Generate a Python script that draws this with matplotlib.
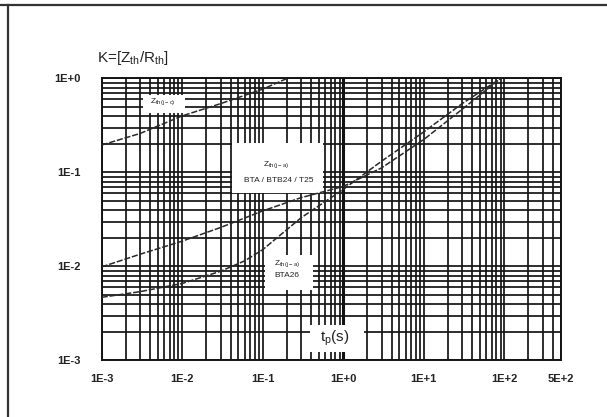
import matplotlib
matplotlib.use("Agg")
import matplotlib.pyplot as plt
from matplotlib.lines import Line2D
from matplotlib.patches import Rectangle
from matplotlib.ticker import FixedLocator, FixedFormatter, LogLocator, NullFormatter

plt.rcParams["font.family"] = ["Liberation Sans", "DejaVu Sans"]
plt.rcParams["mathtext.default"] = "regular"

# tick positions / labels
tp_ticks = [1e-3, 1e-2, 1e-1, 1e0, 1e1, 1e2, 5e2]
tp_labels = ["1E-3", "1E-2", "1E-1", "1E+0", "1E+1", "1E+2", "5E+2"]
k_ticks = [1e-3, 1e-2, 1e-1, 1e0]
k_labels = ["1E-3", "1E-2", "1E-1", "1E+0"]

# Zth(j-c)
tp_jc = [1e-3, 3e-3, 1e-2, 3e-2, 1e-1, 0.2]
k_jc = [0.196, 0.26, 0.40, 0.54, 0.77, 1.0]

# Zth(j-a) BTA / BTB24 / T25
tp_ja = [1e-3, 3e-3, 1e-2, 3e-2, 1e-1, 3e-1, 1, 3, 10, 30, 90]
k_ja = [0.0099, 0.0135, 0.0186, 0.026, 0.039, 0.054, 0.071, 0.112, 0.224, 0.47, 1.0]

# Zth(j-a) BTA26
tp_ja26 = [1e-3, 3e-3, 1e-2, 3e-2, 6e-2, 1e-1, 3e-1, 1, 3, 10, 30, 90]
k_ja26 = [0.0047, 0.0054, 0.0066, 0.0089, 0.0115, 0.0151, 0.033, 0.066, 0.132, 0.27, 0.54, 1.0]

fig = plt.figure(figsize=(6.07, 4.17), dpi=100)
ax = fig.add_axes([0.1675, 0.1355, 0.7559, 0.6763])
ax.set_xscale("log")
ax.set_yscale("log")
ax.set_xlim(1e-3, 5e2)
ax.set_ylim(1e-3, 1e0)

grid_kw = dict(color="#141414", linewidth=1.25)
ax.xaxis.set_major_locator(FixedLocator(tp_ticks))
ax.xaxis.set_major_formatter(FixedFormatter(tp_labels))
ax.xaxis.set_minor_locator(LogLocator(base=10, subs=range(2, 10), numticks=20))
ax.xaxis.set_minor_formatter(NullFormatter())
ax.yaxis.set_major_locator(FixedLocator(k_ticks))
ax.yaxis.set_major_formatter(FixedFormatter(k_labels))
ax.yaxis.set_minor_locator(LogLocator(base=10, subs=range(2, 10), numticks=20))
ax.yaxis.set_minor_formatter(NullFormatter())
ax.grid(True, which="both", **grid_kw)
ax.axvline(1.0, color="#111111", linewidth=2.2, zorder=1)
ax.set_axisbelow(True)

for s in ax.spines.values():
    s.set_color("#141414")
    s.set_linewidth(1.4)

ax.tick_params(which="both", length=0)
ax.tick_params(axis="x", pad=10, labelsize=8)
ax.tick_params(axis="y", pad=15, labelsize=8)
for lbl in ax.get_xticklabels() + ax.get_yticklabels():
    lbl.set_fontweight("bold")
    lbl.set_color("#222222")

line_kw = dict(color="#2a2a2a", linewidth=1.1, linestyle=(0, (4, 1.2)), zorder=3)
ax.plot(tp_jc, k_jc, **line_kw)
ax.plot(tp_ja, k_ja, **line_kw)
ax.plot(tp_ja26, k_ja26, **line_kw)

# white label boxes (axes fraction)
boxes = [
    (0.090, 0.878, 0.092, 0.063),
    (0.284, 0.594, 0.198, 0.177),
    (0.356, 0.250, 0.105, 0.124),
    (0.454, 0.030, 0.117, 0.096),
]
for x0, y0, w, h in boxes:
    ax.add_patch(Rectangle((x0, y0), w, h, transform=ax.transAxes,
                           facecolor="white", edgecolor="none", zorder=2))

small = dict(transform=ax.transAxes, ha="center", va="center",
             fontsize=6, color="#222222", zorder=4)
ax.text(0.134, 0.917, r"Z$_{th(j-c)}$", **small)
ax.text(0.380, 0.693, r"Z$_{th(j-a)}$", **small)
ax.text(0.385, 0.640, "BTA / BTB24 / T25", **small)
ax.text(0.404, 0.342, r"Z$_{th(j-a)}$", **small)
ax.text(0.404, 0.300, "BTA26", **small)
ax.text(0.508, 0.079, r"t$_p$(s)", transform=ax.transAxes, ha="center",
        va="center", fontsize=11, color="#222222", zorder=4)

fig.text(97 / 607, 1 - 58 / 417, r"K=[Z$_{th}$/R$_{th}$]", ha="left",
         va="center", fontsize=11, color="#222222")

# page frame (top and left edge)
fig.add_artist(Line2D([0, 1], [1 - 5 / 417] * 2, transform=fig.transFigure,
                      color="#333333", linewidth=1.6))
fig.add_artist(Line2D([8 / 607] * 2, [0, 1 - 5 / 417], transform=fig.transFigure,
                      color="#333333", linewidth=1.6))

fig.savefig("out.png", dpi=100)
